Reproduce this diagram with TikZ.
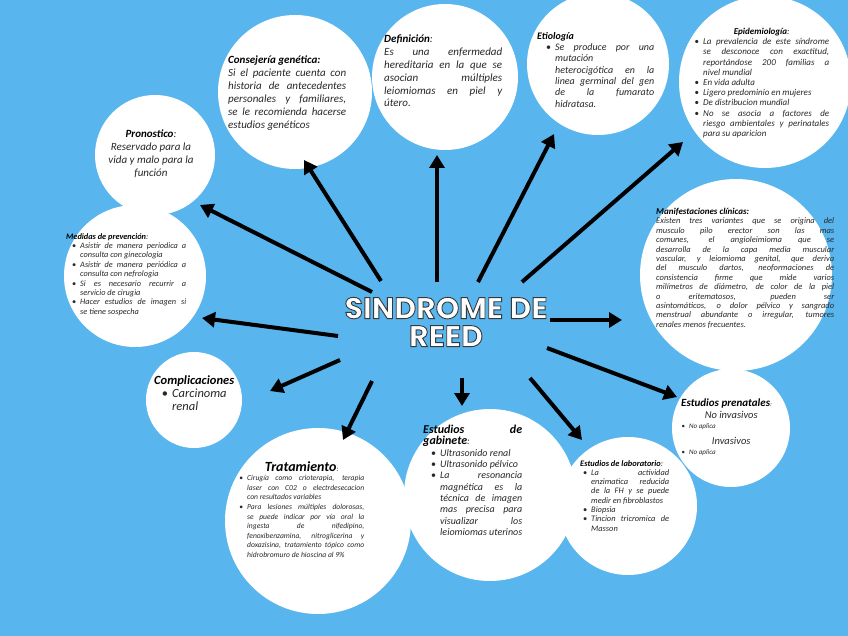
\documentclass[tikz,border=0pt]{standalone}
\usepackage{fontspec}
\setmainfont{Carlito}
\newfontfamily\titlefont{Poppins}
\usepackage{enumitem}
\usetikzlibrary{arrows.meta}
\definecolor{bgblue}{RGB}{88,181,238}
\definecolor{bodygray}{RGB}{40,40,40}
\setlist[itemize]{nosep,label={\upshape\textbullet},labelsep=4pt}
\tikzset{
  bubble/.style={circle,fill=white,inner sep=0pt},
  body/.style={anchor=north west,inner sep=0pt,align=justify,text=bodygray,font=\itshape},
  arr/.style={line width=4pt,-{Triangle[length=13pt,width=15pt]}}
}
\newcommand{\fs}[2]{\fontsize{#1}{#2}\selectfont}
% white letters with a dark outline
\newcommand{\outlined}[1]{\special{pdf:literal direct 2 Tr 0.9 w 0.22 0.22 0.22 RG}#1\special{pdf:literal direct 0 Tr}}

\begin{document}
\begin{tikzpicture}[x=1pt,y=-1pt]
\fill[bgblue] (0,0) rectangle (848,636);
\useasboundingbox (0,0) rectangle (848,636);

% circles
\node[bubble,minimum size=154] (cons) at (295,92) {};
\node[bubble,minimum size=146] (defi) at (445,77) {};
\node[bubble,minimum size=142] (etio) at (598,64) {};
\node[bubble,minimum size=172] (epid) at (765,82) {};
\node[bubble,minimum size=192] (mani) at (736,275) {};
\node[bubble,minimum size=120] (pron) at (155,155) {};
\node[bubble,minimum size=142] (medi) at (135,276) {};
\node[bubble,minimum size=96] (comp) at (194,400) {};
\node[bubble,minimum size=186] (trat) at (318,521) {};
\node[bubble,minimum size=172] (gabi) at (490,495) {};
\node[bubble,minimum size=138] (labo) at (628,506) {};
\node[bubble,minimum size=118] (pren) at (731,428) {};

% title
\node[font=\titlefont\bfseries\fs{30}{28},align=center,text=white] (title) at (446,322)
 {\outlined{SINDROME DE}\\\outlined{REED}};

% arrows
\coordinate (t-cons) at (381,281); \coordinate (h-cons) at (304,160);
\coordinate (t-defi) at (437,282); \coordinate (h-defi) at (437,155);
\coordinate (t-etio) at (478,282); \coordinate (h-etio) at (554,134);
\coordinate (t-epid) at (522,282); \coordinate (h-epid) at (683,142);
\coordinate (t-mani) at (550,320); \coordinate (h-mani) at (622,320);
\coordinate (t-pren) at (547,348); \coordinate (h-pren) at (677,397);
\coordinate (t-labo) at (530,378); \coordinate (h-labo) at (582,440);
\coordinate (t-gabi) at (462,378); \coordinate (h-gabi) at (462,406);
\coordinate (t-trat) at (372,381); \coordinate (h-trat) at (343,440);
\coordinate (t-comp) at (340,360); \coordinate (h-comp) at (270,391);
\coordinate (t-medi) at (338,336); \coordinate (h-medi) at (202,318);
\coordinate (t-pron) at (372,292); \coordinate (h-pron) at (200,205);
\foreach \n in {cons,defi,etio,epid,mani,pren,labo,gabi,trat,comp,medi,pron}{
  \draw[arr] (t-\n) -- (h-\n);
}

% texts
\node[body,text width=118,font=\itshape\fs{11}{13}] (cons-txt) at (228,56)
 {{\bfseries\color{black}Consejería genética:}\par
  Si el paciente cuenta con\linebreak historia de antecedentes\linebreak
  personales y familiares,\linebreak se le recomienda hacerse\linebreak estudios genéticos};

\node[body,text width=118,font=\itshape\fs{11}{12.8}] (defi-txt) at (384,35)
 {{\bfseries\color{black}Definición}:\par
  Es una enfermedad\linebreak hereditaria en la que se\linebreak asocian múltiples\linebreak
  leiomiomas en piel y\linebreak útero.};

\node[body,text width=117,font=\itshape\fs{10}{11.3}] (etio-txt) at (537,32)
 {{\bfseries\color{black}Etiología}\par
  \begin{itemize}[leftmargin=18pt]
  \item Se produce por una\linebreak mutación\linebreak heterocigótica en la\linebreak
  linea germinal del gen\linebreak de la fumarato\linebreak hidratasa.
  \end{itemize}};

\node[body,text width=135,font=\itshape\fs{9}{10.2}] (epid-txt) at (694,28)
 {{\centering{\bfseries\color{black}Epidemiología}:\par}
  \begin{itemize}[leftmargin=9pt]
  \item La prevalencia de este síndrome\linebreak se desconoce con exactitud,\linebreak
  reportándose 200 familias a\linebreak nivel mundial
  \item En vida adulta
  \item Ligero predominio en mujeres
  \item De distribucion mundial
  \item No se asocia a factores de\linebreak riesgo ambientales y perinatales\linebreak para su aparicion
  \end{itemize}};

\node[body,text width=178,font=\itshape\fs{8.5}{9.4}] (mani-txt) at (656,208)
 {{\fs{9}{12}\bfseries\color{black}Manifestaciones clínicas:}\par
  Existen tres variantes que se origina del\linebreak musculo pilo erector son las mas\linebreak
  comunes, el angioleimioma que se\linebreak desarrolla de la capa media muscular\linebreak
  vascular, y leiomioma genital, que deriva\linebreak del musculo dartos, neoformaciones de\linebreak
  consistencia firme que mide varios\linebreak milímetros de diámetro, de color de la piel\linebreak
  o eritematosos, pueden ser\linebreak asintomáticos, o dolor pélvico y sangrado\linebreak
  menstrual abundante o irregular, tumores\linebreak renales menos frecuentes.};

\node[align=center,inner sep=0pt,text=bodygray,font=\itshape\fs{11}{13}] (pron-txt) at (151,154)
 {{\bfseries\color{black}Pronostico}:\\Reservado para la\\vida y malo para la\\función};

\node[body,text width=120,font=\itshape\fs{8.3}{9.4}] (medi-txt) at (66,233)
 {{\bfseries\color{black}Medidas de prevención}:\par
  \begin{itemize}[leftmargin=14pt]
  \item Asistir de manera periodica a\linebreak consulta con ginecologia
  \item Asistir de manera periódica a\linebreak consulta con nefrologia
  \item Si es necesario recurrir a\linebreak servicio de cirugia
  \item Hacer estudios de imagen si\linebreak se tiene sospecha
  \end{itemize}};

\node[body,text width=90,font=\itshape\fs{12.5}{13}] (comp-txt) at (154,376)
 {{\bfseries\color{black}Complicaciones}\par
  \begin{itemize}[leftmargin=18pt]
  \item Carcinoma\linebreak renal
  \end{itemize}};

\node[body,text width=125,font=\itshape\fs{7.6}{9.6}] (trat-txt) at (239,461)
 {{\centering{\fs{14}{16}\bfseries\color{black}Tratamiento}:\par}
  \begin{itemize}[leftmargin=8pt]
  \item Cirugía como crioterapia, terapia\linebreak laser con C02 o electrdesecacion\linebreak
  con resultados variables
  \item Para lesiones múltiples dolorosas,\linebreak se puede indicar por vía oral la\linebreak
  ingesta de nifedipino,\linebreak fenoxibenzamina, nitroglicerina y\linebreak
  doxazisina, tratamiento tópico como\linebreak hidrobromuro de hioscina al 9\%
  \end{itemize}};

\node[body,text width=99,font=\itshape\fs{10}{11.3}] (gabi-txt) at (423,425)
 {{\fs{12}{15}\bfseries\color{black}Estudios de\linebreak gabinete}:\par
  \begin{itemize}[leftmargin=17pt]
  \item Ultrasonido renal
  \item Ultrasonido pélvico
  \item La resonancia\linebreak magnética es la\linebreak técnica de imagen\linebreak
  mas precisa para\linebreak visualizar los\linebreak leiomiomas uterinos
  \end{itemize}};

\node[body,text width=89,font=\itshape\fs{8.4}{9.3}] (labo-txt) at (580,460)
 {{\bfseries\color{black}Estudios de laboratorio}:\par
  \begin{itemize}[leftmargin=11pt]
  \item La actividad\linebreak enzimatica reducida\linebreak de la FH y se puede\linebreak
  medir en fibroblastos
  \item Biopsia
  \item Tincion tricromica de\linebreak Masson
  \end{itemize}};

\node[body,text width=100,font=\itshape\fs{7}{10}] (pren-txt) at (681,399)
 {{\fs{11}{12}\bfseries\color{black}Estudios prenatales}:\par
  {\centering\fs{10.5}{12}No invasivos\par}
  \begin{itemize}[leftmargin=8pt]
  \item No aplica
  \end{itemize}
  \vspace{4pt}
  {\centering\fs{10.5}{12}Invasivos\par}
  \begin{itemize}[leftmargin=8pt]
  \item No aplica
  \end{itemize}};
\end{tikzpicture}
\end{document}
